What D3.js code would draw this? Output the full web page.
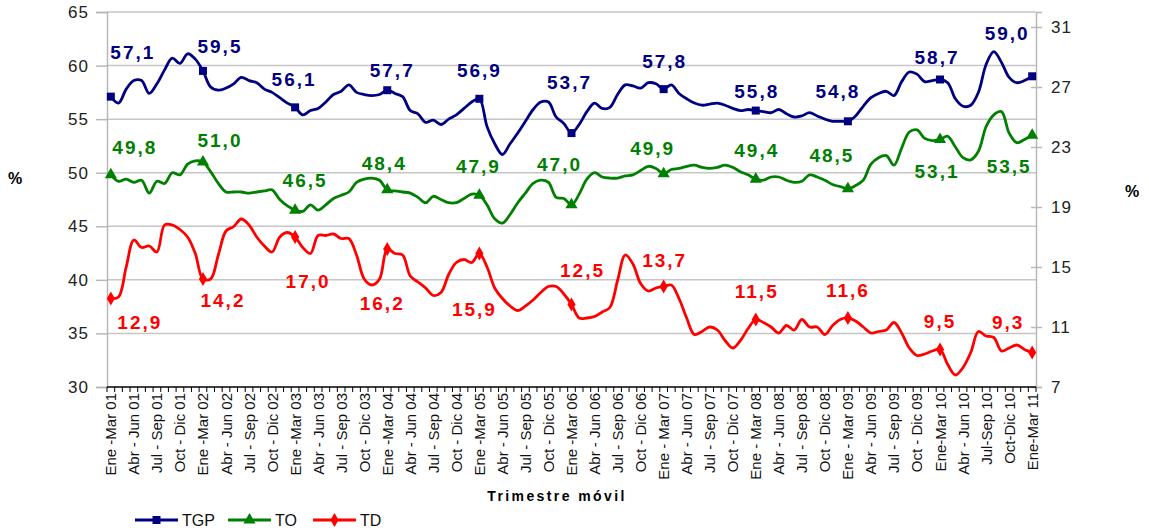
<!DOCTYPE html>
<html>
<head>
<meta charset="utf-8">
<script src="https://cdn.jsdelivr.net/npm/d3@7"></script>
<style>
  body { margin: 0; background: #fff; }
  text { font-family: Arial, "Liberation Sans", sans-serif; }
</style>
</head>
<body>
<svg id="chart" width="1149" height="531"></svg>
<script>
// rolling quarters, Ene-Mar 01 .. Ene-Mar 11 (121 monthly steps)
var months = ['Ene', 'Feb', 'Mar', 'Abr', 'May', 'Jun', 'Jul', 'Ago', 'Sep', 'Oct', 'Nov', 'Dic'];

var tickLabels = [
  'Ene -Mar 01', 'Abr - Jun 01', 'Jul - Sep 01', 'Oct - Dic 01',
  'Ene -Mar 02', 'Abr - Jun 02', 'Jul - Sep 02', 'Oct - Dic 02',
  'Ene -Mar 03', 'Abr - Jun 03', 'Jul - Sep 03', 'Oct - Dic 03',
  'Ene -Mar 04', 'Abr - Jun 04', 'Jul - Sep 04', 'Oct - Dic 04',
  'Ene -Mar 05', 'Abr - Jun 05', 'Jul - Sep 05', 'Oct - Dic 05',
  'Ene -Mar 06', 'Abr - Jun 06', 'Jul - Sep 06', 'Oct - Dic 06',
  'Ene - Mar 07', 'Abr - Jun 07', 'Jul - Sep 07', 'Oct - Dic 07',
  'Ene - Mar 08', 'Abr - Jun 08', 'Jul - Sep 08', 'Oct - Dic 08',
  'Ene - Mar 09', 'Abr - Jun 09', 'Jul - Sep 09', 'Oct - Dic 09',
  'Ene-Mar 10', 'Abr - Jun 10', 'Jul-Sep 10', 'Oct-Dic 10',
  'Ene-Mar 11'
];

var leftTicks = [30, 35, 40, 45, 50, 55, 60, 65];
var rightTicks = [7, 11, 15, 19, 23, 27, 31];

// TGP (left axis)
var tgp = [
  57.1, 56.5, 57.8, 58.6, 58.6, 57.4, 58.3, 59.6, 60.7, 60.2, 61.1, 60.6,
  59.5, 58.0, 57.7, 57.9, 58.3, 58.9, 58.6, 58.4, 57.8, 57.5, 57.0, 56.5,
  56.1, 55.4, 55.8, 56.0, 56.6, 57.3, 57.6, 58.2, 57.5, 57.3, 57.2, 57.3,
  57.7, 57.4, 57.1, 55.8, 55.5, 54.7, 54.9, 54.5, 55.0, 55.4, 56.0, 56.6,
  56.9, 54.3, 52.7, 51.7, 52.7, 53.7, 54.8, 55.9, 56.6, 56.6, 55.2, 54.6,
  53.7, 54.5, 55.7, 56.5, 56.0, 56.1, 57.3, 58.2, 58.1, 57.9, 58.4, 58.3,
  57.8, 58.2, 57.4, 56.9, 56.5, 56.3, 56.4, 56.5, 56.3, 56.0, 55.8, 55.9,
  55.8, 55.7, 55.6, 55.9, 55.5, 55.2, 55.3, 55.6, 55.3, 55.0, 54.8, 54.8,
  54.8, 55.3, 56.2, 57.0, 57.4, 57.6, 57.2, 58.5, 59.4, 59.2, 58.5, 58.6,
  58.7, 58.4, 56.9, 56.2, 56.3, 57.5, 60.1, 61.3, 60.3, 58.9, 58.4, 58.6,
  59.0
];

// TO (left axis)
var to = [
  49.8, 49.2, 49.4, 49.1, 49.3, 48.1, 49.2, 49.0, 50.0, 49.8, 50.8, 51.1,
  51.0, 50.1, 49.0, 48.2, 48.2, 48.2, 48.1, 48.2, 48.3, 48.4, 47.5, 46.9,
  46.5, 46.4, 47.0, 46.5, 47.0, 47.6, 47.9, 48.2, 49.1, 49.4, 49.5, 49.3,
  48.4, 48.3, 48.2, 48.1, 47.7, 47.2, 47.8, 47.5, 47.2, 47.2, 47.6, 48.0,
  47.9, 47.0, 45.7, 45.3, 46.1, 47.2, 48.1, 49.0, 49.3, 49.1, 47.7, 47.6,
  47.0, 48.0, 49.4, 50.0, 49.6, 49.5, 49.5, 49.7, 49.8, 50.2, 50.6, 50.4,
  49.9, 50.3, 50.4, 50.6, 50.7, 50.5, 50.4, 50.5, 50.7, 50.5, 50.1, 49.8,
  49.4, 49.3, 49.6, 49.6, 49.3, 49.1, 49.2, 49.8, 49.6, 49.3, 48.9, 48.7,
  48.5, 48.8, 49.3, 50.8, 51.4, 51.6, 50.7, 52.3, 53.8, 54.0, 53.2, 53.0,
  53.1, 53.4, 52.4, 51.4, 51.2, 52.0, 54.3, 55.4, 55.7, 53.7, 52.8, 53.1,
  53.5
];

// TD (right axis)
var td = [
  12.9, 13.0, 15.0, 16.8, 16.3, 16.4, 16.0, 17.8, 17.8, 17.5, 17.0, 15.9,
  14.2, 14.2, 15.8, 17.4, 17.7, 18.2, 17.8, 17.0, 16.4, 16.0, 17.0, 17.3,
  17.0, 16.3, 15.9, 17.1, 17.1, 17.2, 16.9, 16.9, 15.8, 14.2, 13.8, 14.2,
  16.2, 15.9, 15.8, 14.4, 14.0, 13.6, 13.1, 13.3, 14.5, 15.3, 15.5, 15.3,
  15.9, 15.0, 13.6, 12.9, 12.4, 12.1, 12.4, 12.8, 13.3, 13.7, 13.7, 13.2,
  12.5, 11.6, 11.6, 11.7, 12.0, 12.3, 14.1, 15.8, 15.2, 13.9, 13.4, 13.6,
  13.7, 13.8, 12.9, 11.6, 10.5, 10.7, 11.0, 10.8, 10.1, 9.6, 10.1, 10.9,
  11.5, 11.3, 11.0, 10.6, 11.1, 10.8, 11.5, 11.0, 11.0, 10.5, 11.1, 11.5,
  11.6, 11.4, 11.0, 10.6, 10.7, 10.8, 11.3, 10.6, 9.6, 9.1, 9.2, 9.4,
  9.5, 8.5, 7.8, 8.3, 9.3, 10.7, 10.4, 10.3, 9.4, 9.6, 9.8, 9.5,
  9.3
];

// label placement (dx, dy from marker), layout only
var tgpLabelPos = [[22, -38], [17, -18], [-1, -21], [5, -13], [0, -22], [-2, -44], [1, -21], [1, -13], [-10, -23], [-3, -16], [-25, -36]];
var toLabelPos = [[24, -21], [17, -15], [10, -23], [-3, -20], [-1, -22], [-12, -34], [-11, -19], [1, -22], [-16, -27], [-3, 38], [-23, 38]];
var tdLabelPos = [[29, 30], [20, 28], [13, 51], [-5, 61], [-5, 62], [11, -28], [1, -20], [1, -22], [0, -21], [0, -22], [-24, -24]];

var categories = d3.range(tgp.length).map(function (i) {
  var yy = 1 + Math.floor(i / 12);
  return months[i % 12] + '-' + months[(i + 2) % 12] + ' ' + (yy < 10 ? '0' + yy : yy);
});

var svg = d3.select('#chart');
var margin = { top: 12, right: 113, bottom: 144, left: 107 };
var W = 1149, H = 531;

var x = d3.scaleBand().domain(categories).range([margin.left, W - margin.right]);
var cx = function (i) { return x(categories[i]) + x.bandwidth() / 2; };
var yL = d3.scaleLinear().domain([30, 65]).range([H - margin.bottom, margin.top]);
var yR = d3.scaleLinear().domain([7, 32]).range([H - margin.bottom, margin.top]);

var fmt = function (v) { return d3.format('.1f')(v).replace('.', ','); };

// gridlines
svg.append('g')
  .selectAll('line')
  .data(leftTicks.slice(1))
  .enter()
  .append('line')
  .attr('x1', margin.left)
  .attr('x2', W - margin.right)
  .attr('y1', d => yL(d))
  .attr('y2', d => yL(d))
  .attr('stroke', '#c6c6c6')
  .attr('stroke-width', 1.5);

// left axis
var leftAxis = svg.append('g')
  .attr('transform', 'translate(' + margin.left + ',0)')
  .call(d3.axisLeft(yL).tickValues(leftTicks).tickSize(11).tickPadding(7).tickFormat(d3.format('d')));
leftAxis.select('.domain').attr('stroke', '#b8b8b8').attr('stroke-width', 1.5);
leftAxis.selectAll('.tick line').attr('stroke', '#b8b8b8').attr('stroke-width', 1.5);
leftAxis.selectAll('.tick text').attr('font-size', '17px').attr('fill', '#222').attr('letter-spacing', '1px');

// right axis
var rightAxis = svg.append('g')
  .attr('transform', 'translate(' + (W - margin.right) + ',0)')
  .call(d3.axisRight(yR).tickValues(rightTicks).tickSize(6).tickPadding(9).tickFormat(d3.format('d')));
rightAxis.select('.domain').attr('stroke', '#b8b8b8').attr('stroke-width', 1.5);
rightAxis.selectAll('.tick line').attr('x1', -5).attr('stroke', '#b8b8b8').attr('stroke-width', 1.5);
rightAxis.selectAll('.tick text').attr('font-size', '17px').attr('fill', '#222').attr('letter-spacing', '1px');

// category axis
var baseY = H - margin.bottom;
var xAxis = svg.append('g');
xAxis.append('line')
  .attr('x1', margin.left).attr('x2', W - margin.right)
  .attr('y1', baseY).attr('y2', baseY)
  .attr('stroke', '#000').attr('stroke-width', 1.5);
xAxis.selectAll('.tk')
  .data(d3.range(categories.length + 1))
  .enter()
  .append('line')
  .attr('class', 'tk')
  .attr('x1', d => margin.left + d * x.step())
  .attr('x2', d => margin.left + d * x.step())
  .attr('y1', baseY).attr('y2', baseY + 5)
  .attr('stroke', '#000').attr('stroke-width', 1);
xAxis.selectAll('.lbl')
  .data(tickLabels)
  .enter()
  .append('text')
  .attr('class', 'lbl')
  .attr('transform', (d, i) => 'translate(' + (cx(i * 3) + 5.5) + ',' + (baseY + 6) + ') rotate(-90)')
  .attr('text-anchor', 'end')
  .attr('font-size', '15px')
  .attr('fill', '#111')
  .text(d => d);

svg.append('text')
  .attr('x', 557).attr('y', 501)
  .attr('text-anchor', 'middle')
  .attr('font-size', '14px').attr('font-weight', 'bold')
  .attr('letter-spacing', '2.4px')
  .text('Trimestre móvil');

svg.append('text').attr('x', 8).attr('y', 184).attr('font-size', '16px').attr('font-weight', 'bold').text('%');
svg.append('text').attr('x', 1125).attr('y', 197).attr('font-size', '16px').attr('font-weight', 'bold').text('%');

// series
var series = [
  { name: 'TGP', values: tgp, y: yL, color: '#000080', symbol: d3.symbolSquare, size: 64, labels: tgpLabelPos },
  { name: 'TO', values: to, y: yL, color: '#008000', symbol: d3.symbolTriangle, size: 64, labels: toLabelPos },
  { name: 'TD', values: td, y: yR, color: '#ff0000', symbol: d3.symbolDiamond, size: 58, labels: tdLabelPos }
];

series.forEach(function (s) {
  var line = d3.line()
    .x((d, i) => cx(i))
    .y(d => s.y(d))
    .curve(d3.curveCatmullRom.alpha(0.5));

  svg.append('path')
    .datum(s.values)
    .attr('d', line)
    .attr('fill', 'none')
    .attr('stroke', s.color)
    .attr('stroke-width', 2.8)
    .attr('stroke-linejoin', 'round');

  var marked = d3.range(0, s.values.length, 12);

  svg.append('g')
    .selectAll('path')
    .data(marked)
    .enter()
    .append('path')
    .attr('d', d3.symbol().type(s.symbol).size(s.size))
    .attr('transform', i => 'translate(' + cx(i) + ',' + s.y(s.values[i]) + ')')
    .attr('fill', s.color);

  svg.append('g')
    .selectAll('text')
    .data(marked)
    .enter()
    .append('text')
    .attr('x', (i, k) => cx(i) + s.labels[k][0])
    .attr('y', (i, k) => s.y(s.values[i]) + s.labels[k][1])
    .attr('text-anchor', 'middle')
    .attr('font-size', '19px')
    .attr('font-weight', 'bold')
    .attr('letter-spacing', '2px')
    .attr('fill', s.color)
    .text(i => fmt(s.values[i]));
});

// legend
var legendX = [135, 228, 313];
var legend = svg.append('g');
series.forEach(function (s, k) {
  var g = legend.append('g').attr('transform', 'translate(' + legendX[k] + ',520)');
  g.append('line').attr('x1', 0).attr('x2', 43).attr('stroke', s.color).attr('stroke-width', 2.8);
  g.append('path').attr('d', d3.symbol().type(s.symbol).size(s.size)).attr('transform', 'translate(21.5,0)').attr('fill', s.color);
  g.append('text').attr('x', 47).attr('y', 6).attr('font-size', '16px').attr('fill', '#111').text(s.name);
});
</script>
</body>
</html>
